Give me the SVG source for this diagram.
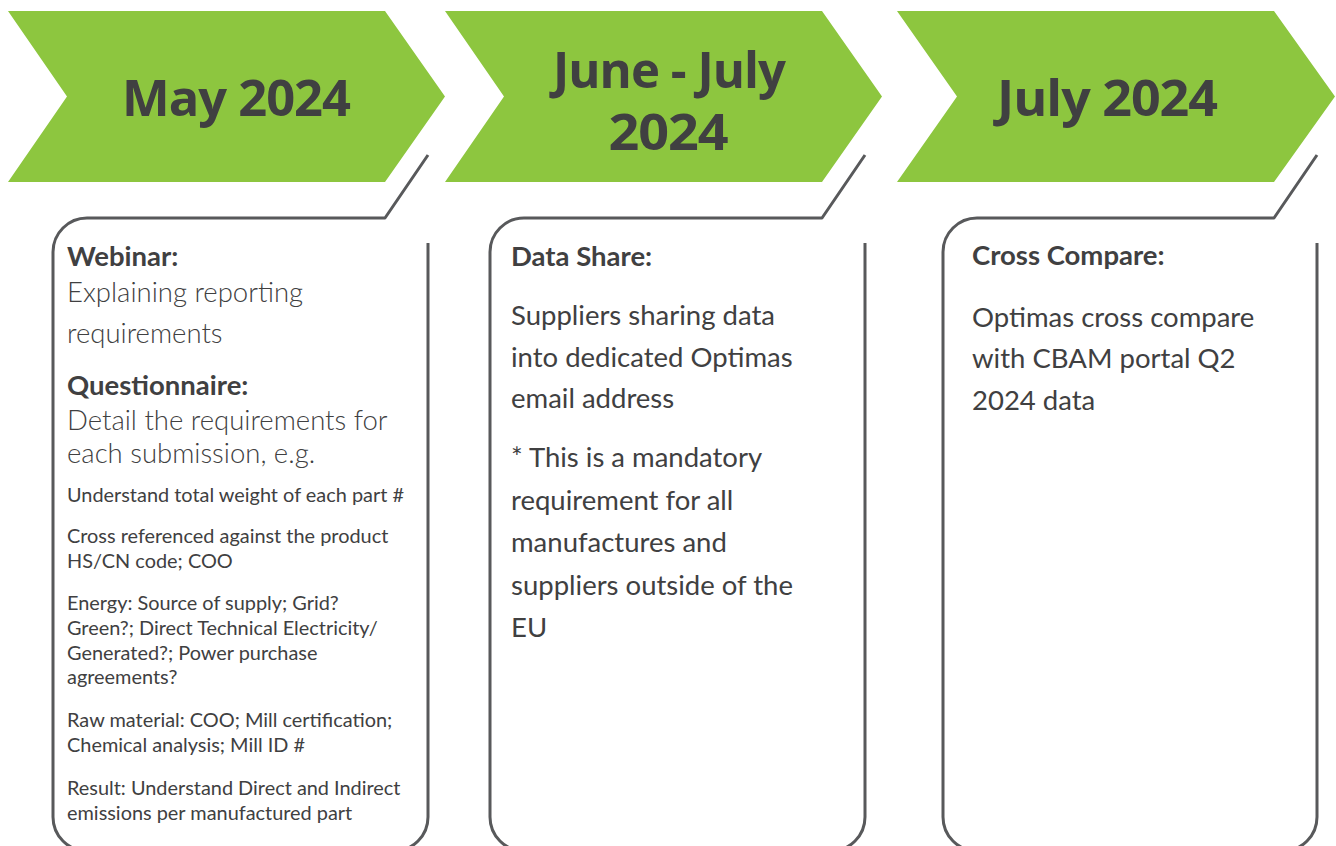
<svg xmlns="http://www.w3.org/2000/svg" width="1336" height="846" viewBox="0 0 1336 846">
<style>
.chev{fill:#8DC63F}
.head{font-family:"Open Sans","Noto Sans",sans-serif;font-weight:700;font-size:51px;fill:#404041;text-anchor:middle;letter-spacing:-1px}
.card{fill:none;stroke:#58595B;stroke-width:3;stroke-linejoin:round}
.b{font-family:Lato,"Open Sans",sans-serif;font-weight:700;font-size:27.5px;fill:#404041}
.t{font-family:Lato,"Open Sans",sans-serif;font-size:27.5px;fill:#404041}
.tl{font-family:Lato,"Open Sans",sans-serif;font-weight:300;font-size:27.5px;fill:#404041}
.s{font-family:Lato,"Open Sans",sans-serif;font-size:19.9px;fill:#404041}
</style>
<rect width="1336" height="846" fill="#ffffff"/>
<g id="step1">
<polygon class="chev" points="8,11 385,11 445,96.5 385,182 8,182 67,96.5"/>
<text class="head" x="236" y="116" textLength="228" lengthAdjust="spacingAndGlyphs">May 2024</text>
</g>
<g id="step2">
<polygon class="chev" points="445,11 822,11 882,96.5 822,182 445,182 504,96.5"/>
<text class="head" x="669" y="88" textLength="232" lengthAdjust="spacingAndGlyphs">June - July</text>
<text class="head" x="668" y="150" textLength="119" lengthAdjust="spacingAndGlyphs">2024</text>
</g>
<g id="step3">
<polygon class="chev" points="897,11 1274,11 1335,96.5 1274,182 897,182 957,96.5"/>
<text class="head" x="1107" y="116" textLength="220" lengthAdjust="spacingAndGlyphs">July 2024</text>
</g>
<g id="card1">
<path class="card" d="M428,155 L385,218 L87,218 A34,34 0 0 0 53,252 L53,817 A34,34 0 0 0 87,851 L394,851 A34,34 0 0 0 428,817 L428,243"/>
<text class="b" x="67" y="266">Webinar:</text>
<text class="tl" x="67" y="302">Explaining reporting</text>
<text class="tl" x="67" y="343">requirements</text>
<text class="b" x="67" y="395">Questionnaire:</text>
<text class="tl" x="67" y="430">Detail the requirements for</text>
<text class="tl" x="67" y="463">each submission, e.g.</text>
<text class="s" x="67" y="502">Understand total weight of each part #</text>
<text class="s" x="67" y="543">Cross referenced against the product</text>
<text class="s" x="67" y="568">HS/CN code; COO</text>
<text class="s" x="67" y="610">Energy: Source of supply; Grid?</text>
<text class="s" x="67" y="635">Green?; Direct Technical Electricity/</text>
<text class="s" x="67" y="660">Generated?; Power purchase</text>
<text class="s" x="67" y="684">agreements?</text>
<text class="s" x="67" y="727">Raw material: COO; Mill certification;</text>
<text class="s" x="67" y="752">Chemical analysis; Mill ID #</text>
<text class="s" x="67" y="795">Result: Understand Direct and Indirect</text>
<text class="s" x="67" y="820">emissions per manufactured part</text>
</g>
<g id="card2">
<path class="card" d="M865,155 L822,218 L524,218 A34,34 0 0 0 490,252 L490,817 A34,34 0 0 0 524,851 L831,851 A34,34 0 0 0 865,817 L865,243"/>
<text class="b" x="511" y="266">Data Share:</text>
<text class="t" x="511" y="325">Suppliers sharing data</text>
<text class="t" x="511" y="367">into dedicated Optimas</text>
<text class="t" x="511" y="408">email address</text>
<text class="t" x="511" y="467">* This is a mandatory</text>
<text class="t" x="511" y="510">requirement for all</text>
<text class="t" x="511" y="552">manufactures and</text>
<text class="t" x="511" y="595">suppliers outside of the</text>
<text class="t" x="511" y="637">EU</text>
</g>
<g id="card3">
<path class="card" d="M1317,155 L1274,218 L977,218 A34,34 0 0 0 943,252 L943,817 A34,34 0 0 0 977,851 L1283,851 A34,34 0 0 0 1317,817 L1317,243"/>
<text class="b" x="972" y="265">Cross Compare:</text>
<text class="t" x="972" y="327">Optimas cross compare</text>
<text class="t" x="972" y="368">with CBAM portal Q2</text>
<text class="t" x="972" y="410">2024 data</text>
</g>
<g id="connectors"></g>
</svg>
